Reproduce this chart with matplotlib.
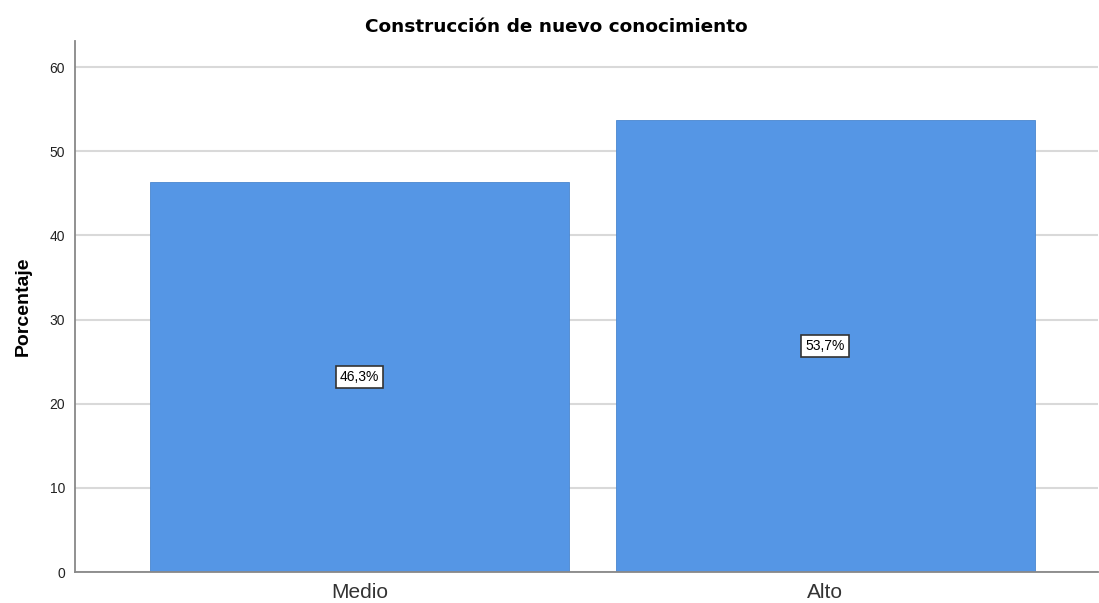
import matplotlib
matplotlib.use("Agg")
import matplotlib.pyplot as plt

plt.rcParams["font.family"] = ["Liberation Sans", "DejaVu Sans"]

categories = ["Medio", "Alto"]
values = [46.3, 53.7]
labels = ["46,3%", "53,7%"]
yticks = [0, 10, 20, 30, 40, 50, 60]

fig = plt.figure(figsize=(10.99, 6.03), dpi=100)
ax = fig.add_axes([0.0682, 0.0514, 0.9308, 0.8806])

x = list(range(len(categories)))
ax.bar(x, values, width=0.9, color="#5596E5", edgecolor="#4a86cf", linewidth=0.6, zorder=2)
for xi, v, lab in zip(x, values, labels):
    ax.text(xi, v / 2, lab, ha="center", va="center", fontsize=10, color="black",
            bbox=dict(boxstyle="square,pad=0.3", facecolor="white", edgecolor="#333333", linewidth=1.2),
            zorder=3)

ax.set_xlim(-0.6105, 1.585)
ax.set_ylim(0, 63.1)
ax.set_yticks(yticks)
ax.set_yticklabels([str(t) for t in yticks], fontsize=10, color="#222222")
ax.set_xticks(x)
ax.set_xticklabels(categories, fontsize=15, color="#333333")
ax.tick_params(axis="y", length=0, pad=7)
ax.tick_params(axis="x", length=0, pad=8)
ax.yaxis.grid(True, color="#d9d9d9", linewidth=1.5, zorder=0)
ax.set_axisbelow(True)
for s in ["top", "right"]:
    ax.spines[s].set_visible(False)
ax.spines["left"].set_color("#888888")
ax.spines["bottom"].set_color("#888888")
ax.spines["left"].set_linewidth(1.3)
ax.spines["bottom"].set_linewidth(1.3)

ax.set_ylabel("Porcentaje", fontsize=14, fontweight="bold", labelpad=13)
fig.text(0.506, 0.955, "Construcción de nuevo conocimiento", ha="center", va="center",
         fontsize=13.3, fontweight="bold", family=["DejaVu Sans"])

fig.savefig("out.png", dpi=100)
